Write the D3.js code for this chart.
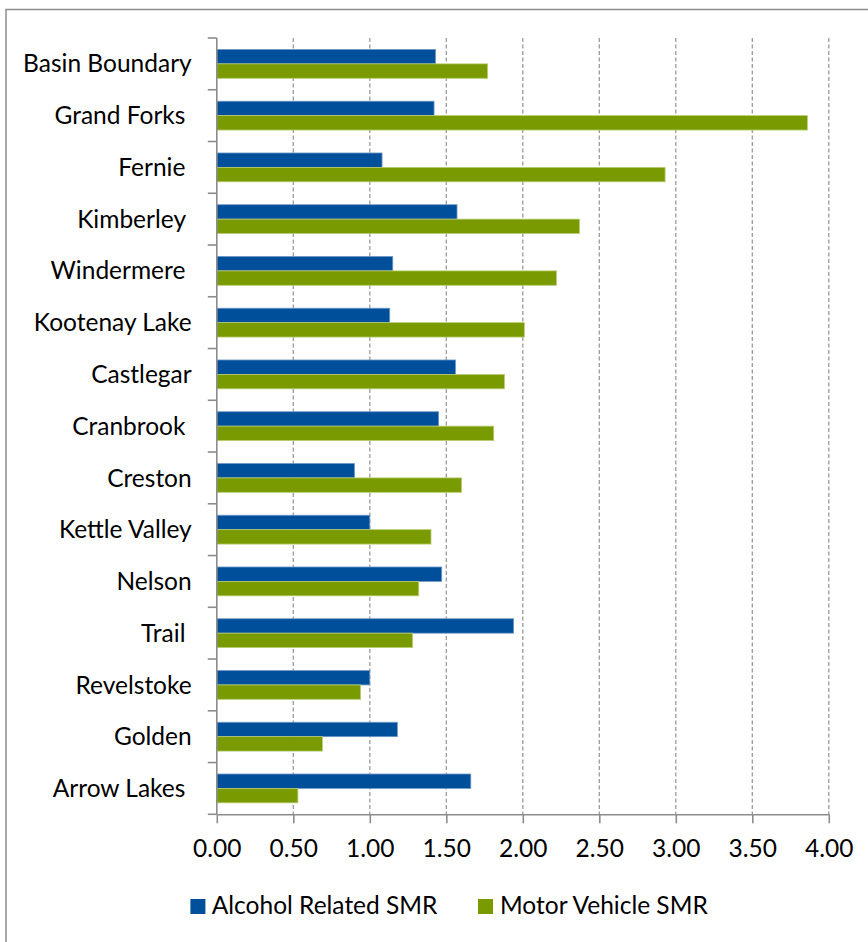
<!DOCTYPE html>
<html>
<head>
<meta charset="utf-8">
<script src="https://cdn.jsdelivr.net/npm/d3@7"></script>
<style>
  html, body { margin: 0; padding: 0; background: #fff; }
  svg { display: block; }
  text { font-family: Lato, "Open Sans", sans-serif; fill: #000; }
</style>
</head>
<body>
<div id="chart"></div>
<script>
// Districts, top to bottom (some source labels carry a trailing space)
const categories = [
  "Basin Boundary", "Grand Forks ", "Fernie ", "Kimberley ", "Windermere ",
  "Kootenay Lake", "Castlegar", "Cranbrook ", "Creston", "Kettle Valley",
  "Nelson", "Trail ", "Revelstoke", "Golden", "Arrow Lakes "
];
const seriesNames = ["Alcohol Related SMR", "Motor Vehicle SMR"];
const alcoholSMR = [1.43, 1.42, 1.08, 1.57, 1.15, 1.13, 1.56, 1.45, 0.90, 1.00, 1.47, 1.94, 1.00, 1.18, 1.66];
const motorSMR   = [1.77, 3.86, 2.93, 2.37, 2.22, 2.01, 1.88, 1.81, 1.60, 1.40, 1.32, 1.28, 0.94, 0.69, 0.53];
const xTicks = [0, 0.5, 1, 1.5, 2, 2.5, 3, 3.5, 4];
const seriesColors = ["#004f9a", "#7a9a01"];
const seriesEdges  = ["#6f97c8", "#b9cd72"];

const W = 868, H = 942;
const fontSize = 24.5;

const svg = d3.select("#chart").append("svg")
  .attr("width", W).attr("height", H);

// outer chart frame (runs off the right and bottom edges)
svg.append("rect")
  .attr("x", 6).attr("y", 9.5)
  .attr("width", W + 20).attr("height", H + 20)
  .attr("fill", "#fff").attr("stroke", "#8c8c8c").attr("stroke-width", 1.5);

const x = d3.scaleLinear().domain([0, 4]).range([216.8, 828.8]);
const y = d3.scaleBand().domain(categories).range([38, 814.3])
  .paddingInner(0.443).paddingOuter(0.2215);
const ySub = d3.scaleBand().domain(seriesNames).range([0, y.bandwidth()]);

const rows = categories.map((c, i) => ({ c, values: [alcoholSMR[i], motorSMR[i]] }));

// dashed vertical gridlines
svg.append("g").selectAll("line")
  .data(xTicks.filter(d => d > 0))
  .join("line")
  .attr("x1", d => x(d)).attr("x2", d => x(d))
  .attr("y1", 38).attr("y2", 814.3)
  .attr("stroke", "#9a9a9a").attr("stroke-width", 1.3)
  .attr("stroke-dasharray", "4,2.5");

// bars
const groups = svg.append("g").selectAll("g")
  .data(rows).join("g")
  .attr("transform", d => `translate(0,${y(d.c)})`);
groups.selectAll("rect")
  .data(d => d.values.map((v, k) => ({ v, k })))
  .join("rect")
  .attr("x", x(0))
  .attr("y", d => ySub(seriesNames[d.k]))
  .attr("width", d => x(d.v) - x(0))
  .attr("height", ySub.bandwidth())
  .attr("fill", d => seriesColors[d.k])
  .attr("stroke", d => seriesEdges[d.k])
  .attr("stroke-width", 0.8);

// category axis: line, boundary ticks and labels
const axisColor = "#8c8c8c";
const yAxis = svg.append("g");
yAxis.append("line")
  .attr("x1", x(0)).attr("x2", x(0))
  .attr("y1", 38).attr("y2", 814.3)
  .attr("stroke", axisColor).attr("stroke-width", 1.6);
yAxis.selectAll("line.tick")
  .data(d3.range(categories.length + 1))
  .join("line").attr("class", "tick")
  .attr("x1", x(0) - 9).attr("x2", x(0))
  .attr("y1", i => 38 + i * y.step()).attr("y2", i => 38 + i * y.step())
  .attr("stroke", axisColor).attr("stroke-width", 1.6);
yAxis.selectAll("text")
  .data(categories)
  .join("text")
  .attr("x", 191.7)
  .attr("y", d => y(d) + y.bandwidth() / 2 + 8.6)
  .attr("text-anchor", "end")
  .style("white-space", "pre")
  .style("font-size", fontSize + "px")
  .text(d => d);

// value axis
const xAxis = svg.append("g")
  .attr("transform", "translate(0,814.3)")
  .call(d3.axisBottom(x).tickValues(xTicks).tickFormat(d3.format(".2f")).tickSize(9).tickSizeOuter(0));
xAxis.select(".domain").attr("stroke", axisColor).attr("stroke-width", 1.6);
xAxis.selectAll(".tick line").attr("stroke", axisColor).attr("stroke-width", 1.6);
xAxis.selectAll(".tick text")
  .attr("y", 42.4).attr("dy", 0)
  .style("font-size", fontSize + "px")
  .style("font-family", "Lato, 'Open Sans', sans-serif")
  .attr("fill", "#000");

// legend
const legendItems = [
  { name: seriesNames[0], sx: 190.4, tx: 211.8 },
  { name: seriesNames[1], sx: 478, tx: 500 }
];
const legend = svg.append("g");
legend.selectAll("rect")
  .data(legendItems).join("rect")
  .attr("x", d => d.sx).attr("y", 899)
  .attr("width", 15).attr("height", 15)
  .attr("fill", (d, i) => seriesColors[i]);
legend.selectAll("text")
  .data(legendItems).join("text")
  .attr("x", d => d.tx).attr("y", 914)
  .style("font-size", fontSize + "px")
  .text(d => d.name);
</script>
</body>
</html>
